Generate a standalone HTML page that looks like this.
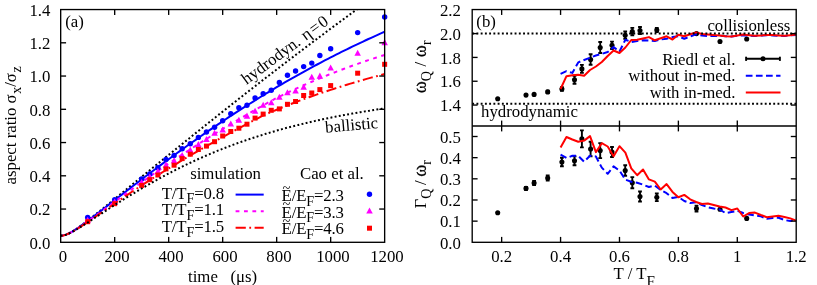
<!DOCTYPE html>
<html><head><meta charset="utf-8"><title>figure</title>
<style>
html,body{margin:0;padding:0;background:#fff;}
body{width:817px;height:285px;overflow:hidden;font-family:"Liberation Serif",serif;}
svg{display:block;will-change:transform;}
</style></head><body>
<svg width="817" height="285" viewBox="0 0 817 285" style="display:block" font-family="'Liberation Serif', serif" font-size="16.80" fill="#000">
<rect x="0" y="0" width="817" height="285" fill="#fff"/>
<defs><clipPath id="cl"><rect x="60.68" y="9.55" width="323.97" height="232.75"/></clipPath>
<clipPath id="cr"><rect x="472.20" y="9.55" width="324.00" height="232.75"/></clipPath></defs>
<g clip-path="url(#cl)">
<path d="M60.68 235.65 L63.38 235.38 L66.08 234.62 L68.78 233.46 L71.48 232.01 L74.18 230.37 L76.88 228.58 L79.58 226.69 L82.28 224.72 L84.98 222.69 L87.68 220.63 L90.38 218.53 L93.08 216.41 L95.78 214.26 L98.48 212.10 L101.18 209.93 L103.88 207.75 L106.58 205.56 L109.28 203.36 L111.98 201.16 L114.68 198.95 L117.38 196.74 L120.08 194.53 L122.78 192.32 L125.48 190.11 L128.18 187.89 L130.87 185.68 L133.57 183.47 L136.27 181.26 L138.97 179.05 L141.67 176.84 L144.37 174.63 L147.07 172.43 L149.77 170.23 L152.47 168.03 L155.17 165.83 L157.87 163.63 L160.57 161.44 L163.27 159.25 L165.97 157.07 L168.67 154.88 L171.37 152.70 L174.07 150.53 L176.77 148.35 L179.47 146.18 L182.17 144.02 L184.87 141.84 L187.57 139.66 L190.27 137.48 L192.97 135.31 L195.67 133.14 L198.37 130.97 L201.07 128.81 L203.77 126.65 L206.47 124.49 L209.17 122.33 L211.87 120.18 L214.57 118.03 L217.27 115.89 L219.97 113.74 L222.67 111.60 L225.37 109.47 L228.07 107.33 L230.77 105.20 L233.47 103.08 L236.17 100.95 L238.87 98.83 L241.57 96.72 L244.27 94.60 L246.97 92.49 L249.67 90.38 L252.37 88.28 L255.07 86.18 L257.77 84.08 L260.47 81.98 L263.16 79.89 L265.86 77.81 L268.56 75.72 L271.26 73.64 L273.96 71.56 L276.66 69.49 L279.36 67.41 L282.06 65.35 L284.76 63.28 L287.46 61.22 L290.16 59.16 L292.86 57.10 L295.56 55.05 L298.26 53.00 L300.96 50.96 L303.66 48.92 L306.36 46.88 L309.06 44.84 L311.76 42.81 L314.46 40.78 L317.16 38.75 L319.86 36.73 L322.56 34.71 L325.26 32.70 L327.96 30.68 L330.66 28.67 L333.36 26.67 L336.06 24.67 L338.76 22.67 L341.46 20.67 L344.16 18.68 L346.86 16.69 L349.56 14.70 L352.26 12.71 L354.96 10.73 L357.66 8.76 L360.36 6.78 L363.06 4.81 L365.76 2.84 L368.46 0.88 L371.16 -1.08 L373.86 -3.04 L376.56 -5.00 L379.26 -6.95 L381.96 -8.90 L384.66 -10.84" fill="none" stroke="#000" stroke-width="2.0" stroke-dasharray="1.9 2.34"/>
<path d="M60.68 235.65 L63.38 235.38 L66.08 234.62 L68.78 233.48 L71.48 232.06 L74.18 230.45 L76.88 228.70 L79.58 226.85 L82.28 224.94 L84.98 222.98 L87.68 220.98 L90.38 218.95 L93.08 216.90 L95.78 214.83 L98.48 212.76 L101.18 210.67 L103.88 208.58 L106.58 206.48 L109.28 204.38 L111.98 202.28 L114.68 200.18 L117.38 198.09 L120.08 195.99 L122.78 193.90 L125.48 191.81 L128.18 189.72 L130.87 187.64 L133.57 185.56 L136.27 183.49 L138.97 181.43 L141.67 179.37 L144.37 177.32 L147.07 175.27 L149.77 173.23 L152.47 171.20 L155.17 169.18 L157.87 167.17 L160.57 165.16 L163.27 163.16 L165.97 161.17 L168.67 159.19 L171.37 157.22 L174.07 155.25 L176.77 153.30 L179.47 151.35 L182.17 149.42 L184.87 147.48 L187.57 145.55 L190.27 143.62 L192.97 141.71 L195.67 139.81 L198.37 137.91 L201.07 136.03 L203.77 134.15 L206.47 132.28 L209.17 130.43 L211.87 128.58 L214.57 126.74 L217.27 124.91 L219.97 123.09 L222.67 121.29 L225.37 119.49 L228.07 117.70 L230.77 115.92 L233.47 114.15 L236.17 112.39 L238.87 110.64 L241.57 108.90 L244.27 107.17 L246.97 105.45 L249.67 103.74 L252.37 102.04 L255.07 100.35 L257.77 98.67 L260.47 97.00 L263.16 95.34 L265.86 93.69 L268.56 92.05 L271.26 90.42 L273.96 88.80 L276.66 87.19 L279.36 85.61 L282.06 84.03 L284.76 82.47 L287.46 80.91 L290.16 79.37 L292.86 77.83 L295.56 76.31 L298.26 74.80 L300.96 73.29 L303.66 71.80 L306.36 70.32 L309.06 68.85 L311.76 67.39 L314.46 65.94 L317.16 64.50 L319.86 63.06 L322.56 61.64 L325.26 60.23 L327.96 58.83 L330.66 57.44 L333.36 56.06 L336.06 54.69 L338.76 53.33 L341.46 51.98 L344.16 50.64 L346.86 49.31 L349.56 48.00 L352.26 46.69 L354.96 45.39 L357.66 44.09 L360.36 42.81 L363.06 41.54 L365.76 40.28 L368.46 39.03 L371.16 37.79 L373.86 36.56 L376.56 35.34 L379.26 34.12 L381.96 32.92 L384.66 31.73" fill="none" stroke="#0000ff" stroke-width="2.0"/>
<path d="M60.68 235.65 L63.38 235.38 L66.08 234.64 L68.78 233.52 L71.48 232.13 L74.18 230.57 L76.88 228.89 L79.58 227.11 L82.28 225.28 L84.98 223.41 L87.68 221.50 L90.38 219.57 L93.08 217.62 L95.78 215.66 L98.48 213.69 L101.18 211.71 L103.88 209.73 L106.58 207.75 L109.28 205.77 L111.98 203.79 L114.68 201.81 L117.38 199.84 L120.08 197.86 L122.78 195.90 L125.48 193.94 L128.18 191.98 L130.87 190.03 L133.57 188.09 L136.27 186.15 L138.97 184.22 L141.67 182.30 L144.37 180.39 L147.07 178.49 L149.77 176.59 L152.47 174.71 L155.17 172.83 L157.87 170.96 L160.57 169.11 L163.27 167.26 L165.97 165.42 L168.67 163.59 L171.37 161.77 L174.07 159.96 L176.77 158.16 L179.47 156.37 L182.17 154.60 L184.87 152.82 L187.57 151.05 L190.27 149.29 L192.97 147.54 L195.67 145.80 L198.37 144.07 L201.07 142.35 L203.77 140.64 L206.47 138.94 L209.17 137.25 L211.87 135.57 L214.57 133.90 L217.27 132.24 L219.97 130.58 L222.67 128.94 L225.37 127.31 L228.07 125.68 L230.77 124.07 L233.47 122.46 L236.17 120.86 L238.87 119.27 L241.57 117.69 L244.27 116.12 L246.97 114.56 L249.67 113.01 L252.37 111.46 L255.07 109.93 L257.77 108.40 L260.47 106.88 L263.16 105.37 L265.86 103.86 L268.56 102.37 L271.26 100.88 L273.96 99.40 L276.66 97.93 L279.36 96.60 L282.06 95.29 L284.76 93.99 L287.46 92.71 L290.16 91.44 L292.86 90.18 L295.56 88.93 L298.26 87.70 L300.96 86.48 L303.66 85.28 L306.36 84.08 L309.06 82.90 L311.76 81.74 L314.46 80.58 L317.16 79.44 L319.86 78.31 L322.56 77.20 L325.26 76.10 L327.96 75.01 L330.66 73.93 L333.36 72.87 L336.06 71.81 L338.76 70.78 L341.46 69.75 L344.16 68.73 L346.86 67.73 L349.56 66.74 L352.26 65.77 L354.96 64.80 L357.66 63.85 L360.36 62.91 L363.06 61.98 L365.76 61.06 L368.46 60.16 L371.16 59.27 L373.86 58.38 L376.56 57.52 L379.26 56.66 L381.96 55.81 L384.66 54.98" fill="none" stroke="#ff00ff" stroke-width="2.0" stroke-dasharray="3.8 4.6"/>
<path d="M60.68 235.65 L63.38 235.39 L66.08 234.65 L68.78 233.55 L71.48 232.21 L74.18 230.69 L76.88 229.07 L79.58 227.37 L82.28 225.61 L84.98 223.83 L87.68 222.01 L90.38 220.18 L93.08 218.33 L95.78 216.47 L98.48 214.61 L101.18 212.75 L103.88 210.89 L106.58 209.03 L109.28 207.17 L111.98 205.32 L114.68 203.47 L117.38 201.62 L120.08 199.79 L122.78 197.96 L125.48 196.14 L128.18 194.33 L130.87 192.52 L133.57 190.73 L136.27 188.95 L138.97 187.18 L141.67 185.42 L144.37 183.67 L147.07 181.93 L149.77 180.21 L152.47 178.49 L155.17 176.79 L157.87 175.11 L160.57 173.43 L163.27 171.77 L165.97 170.12 L168.67 168.48 L171.37 166.82 L174.07 165.17 L176.77 163.53 L179.47 161.90 L182.17 160.29 L184.87 158.67 L187.57 157.07 L190.27 155.48 L192.97 153.89 L195.67 152.32 L198.37 150.75 L201.07 149.19 L203.77 147.65 L206.47 146.11 L209.17 144.58 L211.87 143.06 L214.57 141.54 L217.27 140.04 L219.97 138.54 L222.67 137.05 L225.37 135.56 L228.07 134.09 L230.77 132.62 L233.47 131.16 L236.17 129.70 L238.87 128.26 L241.57 126.81 L244.27 125.38 L246.97 123.95 L249.67 122.52 L252.37 121.10 L255.07 119.69 L257.77 118.28 L260.47 116.88 L263.16 115.48 L265.86 114.30 L268.56 113.13 L271.26 111.97 L273.96 110.83 L276.66 109.71 L279.36 108.59 L282.06 107.49 L284.76 106.41 L287.46 105.34 L290.16 104.28 L292.86 103.23 L295.56 102.20 L298.26 101.18 L300.96 100.17 L303.66 99.17 L306.36 98.19 L309.06 97.22 L311.76 96.26 L314.46 95.32 L317.16 94.39 L319.86 93.47 L322.56 92.56 L325.26 91.66 L327.96 90.78 L330.66 89.91 L333.36 89.02 L336.06 88.14 L338.76 87.27 L341.46 86.41 L344.16 85.57 L346.86 84.73 L349.56 83.90 L352.26 83.09 L354.96 82.28 L357.66 81.48 L360.36 80.70 L363.06 79.92 L365.76 79.16 L368.46 78.40 L371.16 77.65 L373.86 76.91 L376.56 76.19 L379.26 75.47 L381.96 74.76 L384.66 74.06" fill="none" stroke="#ff0000" stroke-width="2.0" stroke-dasharray="10.2 3.5 1.8 3.5"/>
</g>
<circle cx="87.68" cy="217.40" r="2.70" fill="#0000ff"/>
<circle cx="114.68" cy="199.60" r="2.70" fill="#0000ff"/>
<circle cx="141.67" cy="179.00" r="2.70" fill="#0000ff"/>
<circle cx="149.77" cy="174.00" r="2.70" fill="#0000ff"/>
<circle cx="157.87" cy="167.80" r="2.70" fill="#0000ff"/>
<circle cx="165.97" cy="159.50" r="2.70" fill="#0000ff"/>
<circle cx="174.07" cy="155.50" r="2.70" fill="#0000ff"/>
<circle cx="182.17" cy="148.80" r="2.70" fill="#0000ff"/>
<circle cx="190.27" cy="143.80" r="2.70" fill="#0000ff"/>
<circle cx="198.37" cy="137.40" r="2.70" fill="#0000ff"/>
<circle cx="206.47" cy="132.00" r="2.70" fill="#0000ff"/>
<circle cx="214.57" cy="127.20" r="2.70" fill="#0000ff"/>
<circle cx="222.67" cy="120.70" r="2.70" fill="#0000ff"/>
<circle cx="230.77" cy="113.80" r="2.70" fill="#0000ff"/>
<circle cx="238.87" cy="107.80" r="2.70" fill="#0000ff"/>
<circle cx="246.97" cy="105.20" r="2.70" fill="#0000ff"/>
<circle cx="255.07" cy="98.00" r="2.70" fill="#0000ff"/>
<circle cx="263.16" cy="93.70" r="2.70" fill="#0000ff"/>
<circle cx="271.26" cy="90.20" r="2.70" fill="#0000ff"/>
<circle cx="279.36" cy="82.50" r="2.70" fill="#0000ff"/>
<circle cx="287.46" cy="75.30" r="2.70" fill="#0000ff"/>
<circle cx="295.56" cy="71.00" r="2.70" fill="#0000ff"/>
<circle cx="303.66" cy="66.60" r="2.70" fill="#0000ff"/>
<circle cx="311.76" cy="63.10" r="2.70" fill="#0000ff"/>
<circle cx="319.86" cy="55.50" r="2.70" fill="#0000ff"/>
<circle cx="330.66" cy="48.70" r="2.70" fill="#0000ff"/>
<circle cx="357.66" cy="32.60" r="2.70" fill="#0000ff"/>
<circle cx="384.66" cy="17.00" r="2.70" fill="#0000ff"/>
<path d="M87.68 216.73 L90.93 222.74 L84.43 222.74 Z" fill="#ff00ff"/>
<path d="M114.68 198.43 L117.93 204.44 L111.43 204.44 Z" fill="#ff00ff"/>
<path d="M141.67 178.93 L144.92 184.94 L138.42 184.94 Z" fill="#ff00ff"/>
<path d="M149.77 173.43 L153.02 179.44 L146.52 179.44 Z" fill="#ff00ff"/>
<path d="M157.87 167.93 L161.12 173.94 L154.62 173.94 Z" fill="#ff00ff"/>
<path d="M165.97 161.62 L169.22 167.64 L162.72 167.64 Z" fill="#ff00ff"/>
<path d="M174.07 157.23 L177.32 163.24 L170.82 163.24 Z" fill="#ff00ff"/>
<path d="M182.17 152.03 L185.42 158.04 L178.92 158.04 Z" fill="#ff00ff"/>
<path d="M190.27 146.62 L193.52 152.64 L187.02 152.64 Z" fill="#ff00ff"/>
<path d="M198.37 141.12 L201.62 147.14 L195.12 147.14 Z" fill="#ff00ff"/>
<path d="M206.47 135.93 L209.72 141.94 L203.22 141.94 Z" fill="#ff00ff"/>
<path d="M214.57 129.73 L217.82 135.74 L211.32 135.74 Z" fill="#ff00ff"/>
<path d="M222.67 126.52 L225.92 132.54 L219.42 132.54 Z" fill="#ff00ff"/>
<path d="M230.77 120.52 L234.02 126.54 L227.52 126.54 Z" fill="#ff00ff"/>
<path d="M238.87 116.83 L242.12 122.84 L235.62 122.84 Z" fill="#ff00ff"/>
<path d="M246.97 112.62 L250.22 118.64 L243.72 118.64 Z" fill="#ff00ff"/>
<path d="M255.07 107.83 L258.32 113.84 L251.82 113.84 Z" fill="#ff00ff"/>
<path d="M263.16 101.83 L266.41 107.84 L259.91 107.84 Z" fill="#ff00ff"/>
<path d="M271.26 99.33 L274.51 105.34 L268.01 105.34 Z" fill="#ff00ff"/>
<path d="M279.36 93.72 L282.61 99.74 L276.11 99.74 Z" fill="#ff00ff"/>
<path d="M287.46 89.22 L290.71 95.24 L284.21 95.24 Z" fill="#ff00ff"/>
<path d="M295.56 87.42 L298.81 93.44 L292.31 93.44 Z" fill="#ff00ff"/>
<path d="M303.66 83.83 L306.91 89.84 L300.41 89.84 Z" fill="#ff00ff"/>
<path d="M311.76 73.83 L315.01 79.84 L308.51 79.84 Z" fill="#ff00ff"/>
<path d="M319.86 72.62 L323.11 78.64 L316.61 78.64 Z" fill="#ff00ff"/>
<path d="M330.66 64.42 L333.91 70.44 L327.41 70.44 Z" fill="#ff00ff"/>
<path d="M357.66 49.72 L360.91 55.74 L354.41 55.74 Z" fill="#ff00ff"/>
<path d="M384.66 39.12 L387.91 45.14 L381.41 45.14 Z" fill="#ff00ff"/>
<rect x="85.18" y="219.20" width="5.00" height="5.00" fill="#ff0000"/>
<rect x="112.18" y="201.20" width="5.00" height="5.00" fill="#ff0000"/>
<rect x="139.17" y="182.90" width="5.00" height="5.00" fill="#ff0000"/>
<rect x="147.27" y="177.20" width="5.00" height="5.00" fill="#ff0000"/>
<rect x="155.37" y="172.50" width="5.00" height="5.00" fill="#ff0000"/>
<rect x="163.47" y="166.40" width="5.00" height="5.00" fill="#ff0000"/>
<rect x="171.57" y="162.70" width="5.00" height="5.00" fill="#ff0000"/>
<rect x="179.67" y="156.10" width="5.00" height="5.00" fill="#ff0000"/>
<rect x="187.77" y="151.70" width="5.00" height="5.00" fill="#ff0000"/>
<rect x="195.87" y="147.00" width="5.00" height="5.00" fill="#ff0000"/>
<rect x="203.97" y="143.60" width="5.00" height="5.00" fill="#ff0000"/>
<rect x="212.07" y="139.20" width="5.00" height="5.00" fill="#ff0000"/>
<rect x="220.17" y="133.50" width="5.00" height="5.00" fill="#ff0000"/>
<rect x="228.27" y="129.00" width="5.00" height="5.00" fill="#ff0000"/>
<rect x="236.37" y="125.70" width="5.00" height="5.00" fill="#ff0000"/>
<rect x="244.47" y="121.70" width="5.00" height="5.00" fill="#ff0000"/>
<rect x="252.57" y="115.60" width="5.00" height="5.00" fill="#ff0000"/>
<rect x="260.66" y="111.60" width="5.00" height="5.00" fill="#ff0000"/>
<rect x="268.76" y="107.80" width="5.00" height="5.00" fill="#ff0000"/>
<rect x="276.86" y="106.40" width="5.00" height="5.00" fill="#ff0000"/>
<rect x="284.96" y="101.80" width="5.00" height="5.00" fill="#ff0000"/>
<rect x="293.06" y="99.00" width="5.00" height="5.00" fill="#ff0000"/>
<rect x="301.16" y="93.00" width="5.00" height="5.00" fill="#ff0000"/>
<rect x="309.26" y="90.50" width="5.00" height="5.00" fill="#ff0000"/>
<rect x="317.36" y="87.10" width="5.00" height="5.00" fill="#ff0000"/>
<rect x="328.16" y="83.10" width="5.00" height="5.00" fill="#ff0000"/>
<rect x="355.16" y="70.70" width="5.00" height="5.00" fill="#ff0000"/>
<rect x="382.16" y="61.80" width="5.00" height="5.00" fill="#ff0000"/>
<g clip-path="url(#cl)">
<path d="M60.68 235.65 L63.38 235.39 L66.08 234.66 L68.78 233.58 L71.48 232.27 L74.18 230.80 L76.88 229.23 L79.58 227.60 L82.28 225.92 L84.98 224.21 L87.68 222.48 L90.38 220.74 L93.08 218.99 L95.78 217.24 L98.48 215.48 L101.18 213.73 L103.88 211.98 L106.58 210.24 L109.28 208.50 L111.98 206.77 L114.68 205.05 L117.38 203.34 L120.08 201.64 L122.78 199.95 L125.48 198.28 L128.18 196.62 L130.87 194.97 L133.57 193.33 L136.27 191.71 L138.97 190.10 L141.67 188.51 L144.37 186.94 L147.07 185.38 L149.77 183.83 L152.47 182.31 L155.17 180.80 L157.87 179.31 L160.57 177.83 L163.27 176.37 L165.97 174.93 L168.67 173.51 L171.37 172.10 L174.07 170.71 L176.77 169.34 L179.47 167.99 L182.17 166.66 L184.87 165.34 L187.57 164.05 L190.27 162.77 L192.97 161.50 L195.67 160.26 L198.37 159.03 L201.07 157.83 L203.77 156.63 L206.47 155.46 L209.17 154.31 L211.87 153.17 L214.57 152.05 L217.27 150.94 L219.97 149.86 L222.67 148.79 L225.37 147.73 L228.07 146.70 L230.77 145.67 L233.47 144.67 L236.17 143.68 L238.87 142.71 L241.57 141.75 L244.27 140.81 L246.97 139.88 L249.67 138.97 L252.37 138.08 L255.07 137.20 L257.77 136.33 L260.47 135.48 L263.16 134.64 L265.86 133.81 L268.56 133.00 L271.26 132.20 L273.96 131.42 L276.66 130.65 L279.36 129.89 L282.06 129.15 L284.76 128.41 L287.46 127.69 L290.16 126.98 L292.86 126.29 L295.56 125.60 L298.26 124.93 L300.96 124.26 L303.66 123.61 L306.36 122.97 L309.06 122.34 L311.76 121.73 L314.46 121.12 L317.16 120.52 L319.86 119.93 L322.56 119.35 L325.26 118.78 L327.96 118.22 L330.66 117.67 L333.36 117.13 L336.06 116.60 L338.76 116.08 L341.46 115.56 L344.16 115.06 L346.86 114.56 L349.56 114.07 L352.26 113.59 L354.96 113.12 L357.66 112.65 L360.36 112.20 L363.06 111.75 L365.76 111.30 L368.46 110.87 L371.16 110.44 L373.86 110.02 L376.56 109.60 L379.26 109.20 L381.96 108.79 L384.66 108.40" fill="none" stroke="#000" stroke-width="2.0" stroke-dasharray="1.9 2.34"/>
</g>
<rect x="60.68" y="9.55" width="323.97" height="232.75" fill="none" stroke="#000" stroke-width="1.35"/>
<line x1="60.68" y1="209.05" x2="66.08" y2="209.05" stroke="#000" stroke-width="1.35"/>
<line x1="379.25" y1="209.05" x2="384.65" y2="209.05" stroke="#000" stroke-width="1.35"/>
<line x1="60.68" y1="175.80" x2="66.08" y2="175.80" stroke="#000" stroke-width="1.35"/>
<line x1="379.25" y1="175.80" x2="384.65" y2="175.80" stroke="#000" stroke-width="1.35"/>
<line x1="60.68" y1="142.55" x2="66.08" y2="142.55" stroke="#000" stroke-width="1.35"/>
<line x1="379.25" y1="142.55" x2="384.65" y2="142.55" stroke="#000" stroke-width="1.35"/>
<line x1="60.68" y1="109.30" x2="66.08" y2="109.30" stroke="#000" stroke-width="1.35"/>
<line x1="379.25" y1="109.30" x2="384.65" y2="109.30" stroke="#000" stroke-width="1.35"/>
<line x1="60.68" y1="76.05" x2="66.08" y2="76.05" stroke="#000" stroke-width="1.35"/>
<line x1="379.25" y1="76.05" x2="384.65" y2="76.05" stroke="#000" stroke-width="1.35"/>
<line x1="60.68" y1="42.80" x2="66.08" y2="42.80" stroke="#000" stroke-width="1.35"/>
<line x1="379.25" y1="42.80" x2="384.65" y2="42.80" stroke="#000" stroke-width="1.35"/>
<line x1="114.68" y1="236.90" x2="114.68" y2="242.30" stroke="#000" stroke-width="1.35"/>
<line x1="114.68" y1="9.55" x2="114.68" y2="14.95" stroke="#000" stroke-width="1.35"/>
<line x1="168.67" y1="236.90" x2="168.67" y2="242.30" stroke="#000" stroke-width="1.35"/>
<line x1="168.67" y1="9.55" x2="168.67" y2="14.95" stroke="#000" stroke-width="1.35"/>
<line x1="222.67" y1="236.90" x2="222.67" y2="242.30" stroke="#000" stroke-width="1.35"/>
<line x1="222.67" y1="9.55" x2="222.67" y2="14.95" stroke="#000" stroke-width="1.35"/>
<line x1="276.66" y1="236.90" x2="276.66" y2="242.30" stroke="#000" stroke-width="1.35"/>
<line x1="276.66" y1="9.55" x2="276.66" y2="14.95" stroke="#000" stroke-width="1.35"/>
<line x1="330.66" y1="236.90" x2="330.66" y2="242.30" stroke="#000" stroke-width="1.35"/>
<line x1="330.66" y1="9.55" x2="330.66" y2="14.95" stroke="#000" stroke-width="1.35"/>
<text x="50.40" y="248.50" text-anchor="end" >0.0</text>
<text x="50.40" y="215.25" text-anchor="end" >0.2</text>
<text x="50.40" y="182.00" text-anchor="end" >0.4</text>
<text x="50.40" y="148.75" text-anchor="end" >0.6</text>
<text x="50.40" y="115.50" text-anchor="end" >0.8</text>
<text x="50.40" y="82.25" text-anchor="end" >1.0</text>
<text x="50.40" y="49.00" text-anchor="end" >1.2</text>
<text x="50.40" y="15.75" text-anchor="end" >1.4</text>
<text x="62.98" y="261.70" text-anchor="middle" >0</text>
<text x="116.98" y="261.70" text-anchor="middle" >200</text>
<text x="170.97" y="261.70" text-anchor="middle" >400</text>
<text x="224.97" y="261.70" text-anchor="middle" >600</text>
<text x="278.96" y="261.70" text-anchor="middle" >800</text>
<text x="332.96" y="261.70" text-anchor="middle" >1000</text>
<text x="386.96" y="261.70" text-anchor="middle" >1200</text>
<text x="65.20" y="26.60" text-anchor="start" >(a)</text>
<text transform="translate(16.2,125.4) rotate(-90)" text-anchor="middle">aspect ratio <tspan letter-spacing="0.5">σ</tspan><tspan font-size="14.11" dy="4.8">x</tspan><tspan dy="-4.8">&#8203;</tspan>/<tspan letter-spacing="0.5">σ</tspan><tspan font-size="14.11" dy="4.8">z</tspan><tspan dy="-4.8">&#8203;</tspan></text>
<text x="222.6" y="281.5" text-anchor="middle" xml:space="preserve">time   (μs)</text>
<text transform="translate(246.5,84.9) rotate(-36.5)">hydrodyn.<tspan dx="5.2" letter-spacing="1.6">η</tspan><tspan letter-spacing="1.2">=</tspan>0</text>
<text transform="translate(325.6,132.7) rotate(-5)">ballistic</text>
<text x="261.00" y="179.20" text-anchor="end" >simulation</text>
<text x="363.80" y="179.20" text-anchor="end" >Cao et al.</text>
<text x="224.00" y="198.60" text-anchor="end" letter-spacing="-0.15">T/T<tspan font-size="14.11" dy="4.8">F</tspan><tspan dy="-4.8">&#8203;</tspan>=0.8</text>
<text x="281.60" y="200.90" text-anchor="start" letter-spacing="-0.15">E/E<tspan font-size="14.11" dy="4.8">F</tspan><tspan dy="-4.8">&#8203;</tspan>=2.3</text>
<text x="282.40" y="192.50" text-anchor="start" font-size="14.5">~</text>
<path d="M235.60 194.60 L263.70 194.60" fill="none" stroke="#0000ff" stroke-width="2.0"/>
<text x="224.00" y="215.20" text-anchor="end" letter-spacing="-0.15">T/T<tspan font-size="14.11" dy="4.8">F</tspan><tspan dy="-4.8">&#8203;</tspan>=1.1</text>
<text x="281.60" y="217.50" text-anchor="start" letter-spacing="-0.15">E/E<tspan font-size="14.11" dy="4.8">F</tspan><tspan dy="-4.8">&#8203;</tspan>=3.3</text>
<text x="282.40" y="209.10" text-anchor="start" font-size="14.5">~</text>
<path d="M235.60 211.20 L263.70 211.20" fill="none" stroke="#ff00ff" stroke-width="2.0" stroke-dasharray="3.8 4.6"/>
<text x="224.00" y="231.80" text-anchor="end" letter-spacing="-0.15">T/T<tspan font-size="14.11" dy="4.8">F</tspan><tspan dy="-4.8">&#8203;</tspan>=1.5</text>
<text x="281.60" y="234.10" text-anchor="start" letter-spacing="-0.15">E/E<tspan font-size="14.11" dy="4.8">F</tspan><tspan dy="-4.8">&#8203;</tspan>=4.6</text>
<text x="282.40" y="225.70" text-anchor="start" font-size="14.5">~</text>
<path d="M235.60 227.80 L263.70 227.80" fill="none" stroke="#ff0000" stroke-width="2.0" stroke-dasharray="10.2 3.5 1.8 3.5"/>
<circle cx="369.50" cy="194.20" r="2.70" fill="#0000ff"/>
<path d="M369.50 207.43 L372.75 213.44 L366.25 213.44 Z" fill="#ff00ff"/>
<rect x="367.00" y="225.70" width="5.00" height="5.00" fill="#ff0000"/>
<g clip-path="url(#cr)">
<circle cx="497.70" cy="98.80" r="2.55" fill="#000"/>
<circle cx="526.00" cy="95.10" r="2.55" fill="#000"/>
<circle cx="534.10" cy="94.40" r="2.55" fill="#000"/>
<line x1="547.70" y1="90.70" x2="547.70" y2="93.10" stroke="#000" stroke-width="1.90"/><line x1="545.80" y1="90.70" x2="549.60" y2="90.70" stroke="#000" stroke-width="1.90"/><line x1="545.80" y1="93.10" x2="549.60" y2="93.10" stroke="#000" stroke-width="1.90"/><circle cx="547.70" cy="91.90" r="2.55" fill="#000"/>
<line x1="561.90" y1="87.20" x2="561.90" y2="90.80" stroke="#000" stroke-width="1.90"/><line x1="560.00" y1="87.20" x2="563.80" y2="87.20" stroke="#000" stroke-width="1.90"/><line x1="560.00" y1="90.80" x2="563.80" y2="90.80" stroke="#000" stroke-width="1.90"/><circle cx="561.90" cy="89.00" r="2.55" fill="#000"/>
<line x1="574.50" y1="75.80" x2="574.50" y2="83.80" stroke="#000" stroke-width="1.90"/><line x1="572.60" y1="75.80" x2="576.40" y2="75.80" stroke="#000" stroke-width="1.90"/><line x1="572.60" y1="83.80" x2="576.40" y2="83.80" stroke="#000" stroke-width="1.90"/><circle cx="574.50" cy="79.80" r="2.55" fill="#000"/>
<line x1="581.90" y1="64.90" x2="581.90" y2="72.90" stroke="#000" stroke-width="1.90"/><line x1="580.00" y1="64.90" x2="583.80" y2="64.90" stroke="#000" stroke-width="1.90"/><line x1="580.00" y1="72.90" x2="583.80" y2="72.90" stroke="#000" stroke-width="1.90"/><circle cx="581.90" cy="68.90" r="2.55" fill="#000"/>
<line x1="590.60" y1="54.30" x2="590.60" y2="64.70" stroke="#000" stroke-width="1.90"/><line x1="588.70" y1="54.30" x2="592.50" y2="54.30" stroke="#000" stroke-width="1.90"/><line x1="588.70" y1="64.70" x2="592.50" y2="64.70" stroke="#000" stroke-width="1.90"/><circle cx="590.60" cy="59.50" r="2.55" fill="#000"/>
<line x1="600.20" y1="42.00" x2="600.20" y2="53.00" stroke="#000" stroke-width="1.90"/><line x1="598.30" y1="42.00" x2="602.10" y2="42.00" stroke="#000" stroke-width="1.90"/><line x1="598.30" y1="53.00" x2="602.10" y2="53.00" stroke="#000" stroke-width="1.90"/><circle cx="600.20" cy="47.50" r="2.55" fill="#000"/>
<line x1="612.00" y1="41.60" x2="612.00" y2="49.00" stroke="#000" stroke-width="1.90"/><line x1="610.10" y1="41.60" x2="613.90" y2="41.60" stroke="#000" stroke-width="1.90"/><line x1="610.10" y1="49.00" x2="613.90" y2="49.00" stroke="#000" stroke-width="1.90"/><circle cx="612.00" cy="45.30" r="2.55" fill="#000"/>
<line x1="625.20" y1="31.50" x2="625.20" y2="38.90" stroke="#000" stroke-width="1.90"/><line x1="623.30" y1="31.50" x2="627.10" y2="31.50" stroke="#000" stroke-width="1.90"/><line x1="623.30" y1="38.90" x2="627.10" y2="38.90" stroke="#000" stroke-width="1.90"/><circle cx="625.20" cy="35.20" r="2.55" fill="#000"/>
<line x1="632.30" y1="27.90" x2="632.30" y2="35.30" stroke="#000" stroke-width="1.90"/><line x1="630.40" y1="27.90" x2="634.20" y2="27.90" stroke="#000" stroke-width="1.90"/><line x1="630.40" y1="35.30" x2="634.20" y2="35.30" stroke="#000" stroke-width="1.90"/><circle cx="632.30" cy="31.60" r="2.55" fill="#000"/>
<line x1="640.00" y1="27.00" x2="640.00" y2="34.00" stroke="#000" stroke-width="1.90"/><line x1="638.10" y1="27.00" x2="641.90" y2="27.00" stroke="#000" stroke-width="1.90"/><line x1="638.10" y1="34.00" x2="641.90" y2="34.00" stroke="#000" stroke-width="1.90"/><circle cx="640.00" cy="30.50" r="2.55" fill="#000"/>
<line x1="656.80" y1="28.00" x2="656.80" y2="32.00" stroke="#000" stroke-width="1.90"/><line x1="654.90" y1="28.00" x2="658.70" y2="28.00" stroke="#000" stroke-width="1.90"/><line x1="654.90" y1="32.00" x2="658.70" y2="32.00" stroke="#000" stroke-width="1.90"/><circle cx="656.80" cy="30.00" r="2.55" fill="#000"/>
<circle cx="696.50" cy="33.60" r="2.55" fill="#000"/>
<circle cx="720.00" cy="41.50" r="2.55" fill="#000"/>
<circle cx="746.70" cy="39.00" r="2.55" fill="#000"/>
<circle cx="497.70" cy="212.70" r="2.55" fill="#000"/>
<line x1="526.00" y1="186.90" x2="526.00" y2="189.90" stroke="#000" stroke-width="1.90"/><line x1="524.10" y1="186.90" x2="527.90" y2="186.90" stroke="#000" stroke-width="1.90"/><line x1="524.10" y1="189.90" x2="527.90" y2="189.90" stroke="#000" stroke-width="1.90"/><circle cx="526.00" cy="188.40" r="2.55" fill="#000"/>
<line x1="534.10" y1="181.00" x2="534.10" y2="185.00" stroke="#000" stroke-width="1.90"/><line x1="532.20" y1="181.00" x2="536.00" y2="181.00" stroke="#000" stroke-width="1.90"/><line x1="532.20" y1="185.00" x2="536.00" y2="185.00" stroke="#000" stroke-width="1.90"/><circle cx="534.10" cy="183.00" r="2.55" fill="#000"/>
<line x1="547.70" y1="175.50" x2="547.70" y2="180.50" stroke="#000" stroke-width="1.90"/><line x1="545.80" y1="175.50" x2="549.60" y2="175.50" stroke="#000" stroke-width="1.90"/><line x1="545.80" y1="180.50" x2="549.60" y2="180.50" stroke="#000" stroke-width="1.90"/><circle cx="547.70" cy="178.00" r="2.55" fill="#000"/>
<line x1="561.90" y1="157.70" x2="561.90" y2="166.30" stroke="#000" stroke-width="1.90"/><line x1="560.00" y1="157.70" x2="563.80" y2="157.70" stroke="#000" stroke-width="1.90"/><line x1="560.00" y1="166.30" x2="563.80" y2="166.30" stroke="#000" stroke-width="1.90"/><circle cx="561.90" cy="162.00" r="2.55" fill="#000"/>
<line x1="574.50" y1="156.40" x2="574.50" y2="165.20" stroke="#000" stroke-width="1.90"/><line x1="572.60" y1="156.40" x2="576.40" y2="156.40" stroke="#000" stroke-width="1.90"/><line x1="572.60" y1="165.20" x2="576.40" y2="165.20" stroke="#000" stroke-width="1.90"/><circle cx="574.50" cy="160.80" r="2.55" fill="#000"/>
<line x1="581.90" y1="130.40" x2="581.90" y2="147.40" stroke="#000" stroke-width="1.90"/><line x1="580.00" y1="130.40" x2="583.80" y2="130.40" stroke="#000" stroke-width="1.90"/><line x1="580.00" y1="147.40" x2="583.80" y2="147.40" stroke="#000" stroke-width="1.90"/><circle cx="581.90" cy="138.90" r="2.55" fill="#000"/>
<line x1="590.60" y1="141.80" x2="590.60" y2="156.20" stroke="#000" stroke-width="1.90"/><line x1="588.70" y1="141.80" x2="592.50" y2="141.80" stroke="#000" stroke-width="1.90"/><line x1="588.70" y1="156.20" x2="592.50" y2="156.20" stroke="#000" stroke-width="1.90"/><circle cx="590.60" cy="149.00" r="2.55" fill="#000"/>
<line x1="600.20" y1="143.10" x2="600.20" y2="158.10" stroke="#000" stroke-width="1.90"/><line x1="598.30" y1="143.10" x2="602.10" y2="143.10" stroke="#000" stroke-width="1.90"/><line x1="598.30" y1="158.10" x2="602.10" y2="158.10" stroke="#000" stroke-width="1.90"/><circle cx="600.20" cy="150.60" r="2.55" fill="#000"/>
<line x1="612.00" y1="147.00" x2="612.00" y2="157.00" stroke="#000" stroke-width="1.90"/><line x1="610.10" y1="147.00" x2="613.90" y2="147.00" stroke="#000" stroke-width="1.90"/><line x1="610.10" y1="157.00" x2="613.90" y2="157.00" stroke="#000" stroke-width="1.90"/><circle cx="612.00" cy="152.00" r="2.55" fill="#000"/>
<line x1="625.20" y1="165.30" x2="625.20" y2="175.70" stroke="#000" stroke-width="1.90"/><line x1="623.30" y1="165.30" x2="627.10" y2="165.30" stroke="#000" stroke-width="1.90"/><line x1="623.30" y1="175.70" x2="627.10" y2="175.70" stroke="#000" stroke-width="1.90"/><circle cx="625.20" cy="170.50" r="2.55" fill="#000"/>
<line x1="632.30" y1="177.10" x2="632.30" y2="188.30" stroke="#000" stroke-width="1.90"/><line x1="630.40" y1="177.10" x2="634.20" y2="177.10" stroke="#000" stroke-width="1.90"/><line x1="630.40" y1="188.30" x2="634.20" y2="188.30" stroke="#000" stroke-width="1.90"/><circle cx="632.30" cy="182.70" r="2.55" fill="#000"/>
<line x1="640.00" y1="191.50" x2="640.00" y2="201.50" stroke="#000" stroke-width="1.90"/><line x1="638.10" y1="191.50" x2="641.90" y2="191.50" stroke="#000" stroke-width="1.90"/><line x1="638.10" y1="201.50" x2="641.90" y2="201.50" stroke="#000" stroke-width="1.90"/><circle cx="640.00" cy="196.50" r="2.55" fill="#000"/>
<line x1="656.80" y1="193.50" x2="656.80" y2="201.10" stroke="#000" stroke-width="1.90"/><line x1="654.90" y1="193.50" x2="658.70" y2="193.50" stroke="#000" stroke-width="1.90"/><line x1="654.90" y1="201.10" x2="658.70" y2="201.10" stroke="#000" stroke-width="1.90"/><circle cx="656.80" cy="197.30" r="2.55" fill="#000"/>
<line x1="696.50" y1="205.60" x2="696.50" y2="211.60" stroke="#000" stroke-width="1.90"/><line x1="694.60" y1="205.60" x2="698.40" y2="205.60" stroke="#000" stroke-width="1.90"/><line x1="694.60" y1="211.60" x2="698.40" y2="211.60" stroke="#000" stroke-width="1.90"/><circle cx="696.50" cy="208.60" r="2.55" fill="#000"/>
<circle cx="720.00" cy="209.20" r="2.55" fill="#000"/>
<circle cx="746.70" cy="218.40" r="2.55" fill="#000"/>
<path d="M560.57 73.90 L566.46 71.20 L572.35 72.90 L578.24 62.40 L584.13 60.00 L590.02 57.70 L595.91 55.50 L601.80 53.90 L607.69 52.00 L613.58 47.10 L619.48 51.50 L625.37 39.70 L631.26 42.00 L637.15 41.00 L643.04 40.30 L648.93 40.60 L654.82 41.10 L660.71 39.50 L666.60 38.70 L672.49 37.10 L678.39 36.30 L684.28 38.70 L690.17 36.50 L696.06 34.30 L701.95 35.50 L707.84 36.10 L713.73 36.10 L719.62 35.80 L725.51 36.20 L731.40 36.60 L737.30 35.80 L743.19 35.20 L749.08 35.60 L754.97 36.00 L760.86 35.60 L766.75 35.30 L772.64 35.40 L778.53 35.70 L784.42 35.90 L790.31 35.40 L796.21 35.00" fill="none" stroke="#0000ff" stroke-width="2.0" stroke-dasharray="6.7 3.4" stroke-linejoin="round"/>
<path d="M560.57 89.00 L566.46 76.20 L572.35 75.30 L578.24 74.80 L584.13 75.80 L590.02 70.00 L595.91 66.50 L601.80 62.00 L607.69 56.00 L613.58 50.50 L619.48 53.00 L625.37 47.50 L631.26 40.00 L637.15 39.80 L643.04 38.50 L648.93 37.10 L654.82 40.30 L660.71 38.30 L666.60 36.30 L672.49 39.50 L678.39 34.70 L684.28 36.30 L690.17 34.30 L696.06 32.40 L701.95 34.00 L707.84 34.40 L713.73 35.10 L719.62 35.60 L725.51 36.20 L731.40 36.50 L737.30 35.40 L743.19 34.60 L749.08 35.20 L754.97 35.80 L760.86 35.40 L766.75 35.00 L772.64 34.90 L778.53 35.40 L784.42 35.80 L790.31 35.20 L796.21 34.60" fill="none" stroke="#ff0000" stroke-width="2.0" stroke-linejoin="round"/>
<path d="M560.57 154.70 L566.46 158.00 L572.35 155.80 L578.24 155.80 L584.13 161.70 L590.02 155.80 L595.91 156.50 L601.80 167.60 L607.69 173.80 L613.58 166.40 L619.48 170.60 L625.37 179.70 L631.26 181.70 L637.15 182.70 L643.04 184.60 L648.93 187.00 L654.82 185.60 L660.71 190.00 L666.60 193.20 L672.49 198.10 L678.39 196.90 L684.28 201.00 L690.17 203.00 L696.06 202.30 L701.95 205.00 L707.84 207.20 L713.73 208.50 L719.62 209.50 L725.51 213.10 L731.40 212.00 L737.30 210.80 L743.19 213.00 L749.08 214.50 L754.97 215.50 L760.86 216.30 L766.75 218.80 L772.64 218.00 L778.53 217.70 L784.42 220.00 L790.31 221.10 L796.21 218.80" fill="none" stroke="#0000ff" stroke-width="2.0" stroke-dasharray="6.7 3.4" stroke-linejoin="round"/>
<path d="M560.57 147.60 L566.46 137.00 L572.35 139.50 L578.24 141.70 L584.13 140.60 L590.02 136.10 L595.91 152.10 L601.80 143.20 L607.69 146.50 L613.58 156.20 L619.48 146.20 L625.37 152.70 L631.26 168.30 L637.15 175.20 L643.04 169.50 L648.93 179.40 L654.82 181.60 L660.71 189.50 L666.60 184.10 L672.49 191.90 L678.39 197.30 L684.28 194.90 L690.17 199.30 L696.06 202.00 L701.95 204.00 L707.84 203.50 L713.73 205.00 L719.62 206.50 L725.51 207.50 L731.40 210.10 L737.30 208.50 L743.19 216.50 L749.08 213.10 L754.97 212.60 L760.86 215.00 L766.75 217.20 L772.64 216.50 L778.53 215.80 L784.42 217.00 L790.31 218.40 L796.21 220.60" fill="none" stroke="#ff0000" stroke-width="2.0" stroke-linejoin="round"/>
<path d="M472.20 33.60 L796.20 33.60" fill="none" stroke="#000" stroke-width="2.0" stroke-dasharray="1.9 2.34"/>
<path d="M472.20 103.87 L796.20 103.87" fill="none" stroke="#000" stroke-width="2.0" stroke-dasharray="1.9 2.34"/>
</g>
<rect x="472.20" y="9.55" width="324.00" height="232.75" fill="none" stroke="#000" stroke-width="1.35"/>
<line x1="472.20" y1="126.00" x2="796.20" y2="126.00" stroke="#000" stroke-width="1.35"/>
<line x1="472.20" y1="33.60" x2="477.60" y2="33.60" stroke="#000" stroke-width="1.35"/>
<line x1="790.80" y1="33.60" x2="796.20" y2="33.60" stroke="#000" stroke-width="1.35"/>
<text x="460.90" y="39.80" text-anchor="end" >2.0</text>
<line x1="472.20" y1="57.42" x2="477.60" y2="57.42" stroke="#000" stroke-width="1.35"/>
<line x1="790.80" y1="57.42" x2="796.20" y2="57.42" stroke="#000" stroke-width="1.35"/>
<text x="460.90" y="63.62" text-anchor="end" >1.8</text>
<line x1="472.20" y1="81.24" x2="477.60" y2="81.24" stroke="#000" stroke-width="1.35"/>
<line x1="790.80" y1="81.24" x2="796.20" y2="81.24" stroke="#000" stroke-width="1.35"/>
<text x="460.90" y="87.44" text-anchor="end" >1.6</text>
<line x1="472.20" y1="105.06" x2="477.60" y2="105.06" stroke="#000" stroke-width="1.35"/>
<line x1="790.80" y1="105.06" x2="796.20" y2="105.06" stroke="#000" stroke-width="1.35"/>
<text x="460.90" y="111.26" text-anchor="end" >1.4</text>
<text x="460.90" y="15.98" text-anchor="end" >2.2</text>
<text x="460.90" y="248.50" text-anchor="end" >0.0</text>
<line x1="472.20" y1="221.14" x2="477.60" y2="221.14" stroke="#000" stroke-width="1.35"/>
<line x1="790.80" y1="221.14" x2="796.20" y2="221.14" stroke="#000" stroke-width="1.35"/>
<text x="460.90" y="227.34" text-anchor="end" >0.1</text>
<line x1="472.20" y1="199.98" x2="477.60" y2="199.98" stroke="#000" stroke-width="1.35"/>
<line x1="790.80" y1="199.98" x2="796.20" y2="199.98" stroke="#000" stroke-width="1.35"/>
<text x="460.90" y="206.18" text-anchor="end" >0.2</text>
<line x1="472.20" y1="178.82" x2="477.60" y2="178.82" stroke="#000" stroke-width="1.35"/>
<line x1="790.80" y1="178.82" x2="796.20" y2="178.82" stroke="#000" stroke-width="1.35"/>
<text x="460.90" y="185.02" text-anchor="end" >0.3</text>
<line x1="472.20" y1="157.66" x2="477.60" y2="157.66" stroke="#000" stroke-width="1.35"/>
<line x1="790.80" y1="157.66" x2="796.20" y2="157.66" stroke="#000" stroke-width="1.35"/>
<text x="460.90" y="163.86" text-anchor="end" >0.4</text>
<line x1="472.20" y1="136.50" x2="477.60" y2="136.50" stroke="#000" stroke-width="1.35"/>
<line x1="790.80" y1="136.50" x2="796.20" y2="136.50" stroke="#000" stroke-width="1.35"/>
<text x="460.90" y="142.70" text-anchor="end" >0.5</text>
<line x1="501.65" y1="236.90" x2="501.65" y2="242.30" stroke="#000" stroke-width="1.35"/>
<line x1="501.65" y1="9.55" x2="501.65" y2="14.95" stroke="#000" stroke-width="1.35"/>
<line x1="501.65" y1="120.60" x2="501.65" y2="131.40" stroke="#000" stroke-width="1.35"/>
<text x="501.65" y="261.70" text-anchor="middle" >0.2</text>
<line x1="560.57" y1="236.90" x2="560.57" y2="242.30" stroke="#000" stroke-width="1.35"/>
<line x1="560.57" y1="9.55" x2="560.57" y2="14.95" stroke="#000" stroke-width="1.35"/>
<line x1="560.57" y1="120.60" x2="560.57" y2="131.40" stroke="#000" stroke-width="1.35"/>
<text x="560.57" y="261.70" text-anchor="middle" >0.4</text>
<line x1="619.48" y1="236.90" x2="619.48" y2="242.30" stroke="#000" stroke-width="1.35"/>
<line x1="619.48" y1="9.55" x2="619.48" y2="14.95" stroke="#000" stroke-width="1.35"/>
<line x1="619.48" y1="120.60" x2="619.48" y2="131.40" stroke="#000" stroke-width="1.35"/>
<text x="619.48" y="261.70" text-anchor="middle" >0.6</text>
<line x1="678.38" y1="236.90" x2="678.38" y2="242.30" stroke="#000" stroke-width="1.35"/>
<line x1="678.38" y1="9.55" x2="678.38" y2="14.95" stroke="#000" stroke-width="1.35"/>
<line x1="678.38" y1="120.60" x2="678.38" y2="131.40" stroke="#000" stroke-width="1.35"/>
<text x="678.38" y="261.70" text-anchor="middle" >0.8</text>
<line x1="737.30" y1="236.90" x2="737.30" y2="242.30" stroke="#000" stroke-width="1.35"/>
<line x1="737.30" y1="9.55" x2="737.30" y2="14.95" stroke="#000" stroke-width="1.35"/>
<line x1="737.30" y1="120.60" x2="737.30" y2="131.40" stroke="#000" stroke-width="1.35"/>
<text x="737.30" y="261.70" text-anchor="middle" >1</text>
<text x="796.20" y="261.70" text-anchor="middle" >1.2</text>
<text x="476.30" y="26.60" text-anchor="start" >(b)</text>
<text x="790.40" y="30.80" text-anchor="end" >collisionless</text>
<text x="481.00" y="117.20" text-anchor="start" >hydrodynamic</text>
<text x="634.2" y="279.4" text-anchor="middle">T / T<tspan font-size="15.12" dy="7.0">F</tspan></text>
<text transform="translate(426,66.8) rotate(-90)" text-anchor="middle" word-spacing="0.4"><tspan font-size="18.3" stroke="#000" stroke-width="0.25">ω</tspan><tspan font-size="14.11" dy="4.8">Q</tspan><tspan dy="-4.8">&#8203;</tspan> / <tspan font-size="18.3" stroke="#000" stroke-width="0.25">ω</tspan><tspan font-size="14.11" dy="4.8">r</tspan><tspan dy="-4.8">&#8203;</tspan></text>
<text transform="translate(426,184.2) rotate(-90)" text-anchor="middle" word-spacing="-0.6">Γ<tspan font-size="14.11" dy="4.8">Q</tspan><tspan dy="-4.8">&#8203;</tspan> / <tspan font-size="18.3" stroke="#000" stroke-width="0.25">ω</tspan><tspan font-size="14.11" dy="4.8">r</tspan><tspan dy="-4.8">&#8203;</tspan></text>
<text x="735.40" y="64.60" text-anchor="end" >Riedl et al.</text>
<text x="735.40" y="81.30" text-anchor="end" >without in-med.</text>
<text x="735.40" y="97.90" text-anchor="end" >with in-med.</text>
<line x1="746.10" y1="58.80" x2="779.90" y2="58.80" stroke="#000" stroke-width="1.90"/><line x1="746.10" y1="56.70" x2="746.10" y2="60.90" stroke="#000" stroke-width="1.90"/><line x1="779.90" y1="56.70" x2="779.90" y2="60.90" stroke="#000" stroke-width="1.90"/><circle cx="763.00" cy="58.80" r="2.50" fill="#000"/>
<path d="M745.80 75.80 L780.50 75.80" fill="none" stroke="#0000ff" stroke-width="2.0" stroke-dasharray="6.7 3.4"/>
<path d="M745.80 92.50 L780.50 92.50" fill="none" stroke="#ff0000" stroke-width="2.0"/>
</svg>
</body></html>
